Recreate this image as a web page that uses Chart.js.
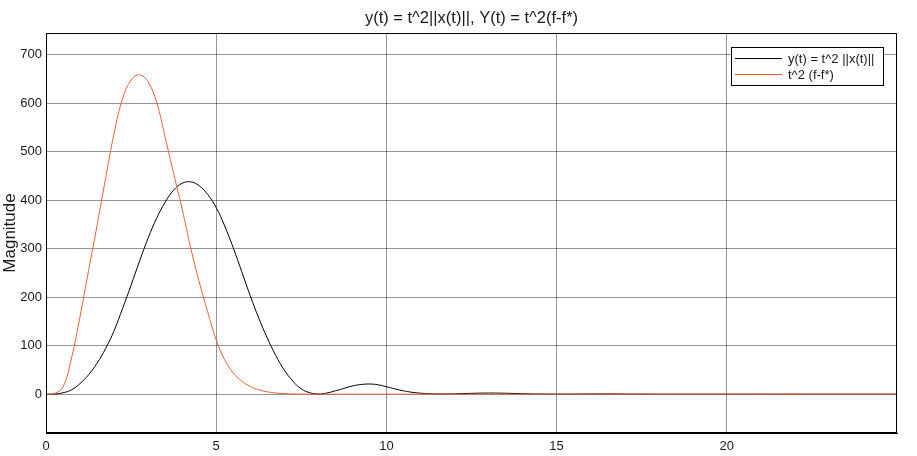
<!DOCTYPE html>
<html>
<head>
<meta charset="utf-8">
<script src="https://cdn.jsdelivr.net/npm/chart.js@4.4.1/dist/chart.umd.min.js"></script>
<style>
  html, body { margin: 0; padding: 0; background: #fff; }
  #wrap { width: 917px; height: 456px; }
</style>
</head>
<body>
<div id="wrap"><canvas id="grafico" width="917" height="456"></canvas></div>
<script>
// data
const tempo = [0, 0.25, 0.5, 0.75, 1, 1.25, 1.5, 1.75, 2, 2.25, 2.5, 2.75, 3, 3.25, 3.5, 3.75,
  4, 4.25, 4.5, 4.75, 5, 5.25, 5.5, 5.75, 6, 6.25, 6.5, 6.75, 7, 7.25, 7.5, 7.75,
  8, 8.25, 8.5, 8.75, 9, 9.25, 9.5, 9.75, 10, 10.25, 10.5, 10.75, 11, 11.25, 11.5,
  12, 12.5, 13, 13.5, 14, 14.5, 15, 16, 16.5, 17, 18, 20, 22, 25];

const serieY = [0, 0.4, 3, 9, 22, 40, 64, 94, 131, 177, 225, 275, 322, 363, 396, 421,
  435, 438, 430, 412, 385, 347, 302, 253, 203, 157, 116, 80, 50, 27, 11, 3,
  0.5, 2.5, 7, 12, 17, 20, 21, 19.5, 15.5, 11, 7, 4, 2.2, 1, 0.5,
  0.8, 1.8, 2.4, 2, 1, 0.4, 0.2, 0.5, 0.6, 0.4, 0.1, 0.1, 0, 0];

const serieF = [0, 1.5, 15, 75, 160, 255, 348, 445, 538, 610, 648, 659, 644, 602, 530, 455,
  382, 302, 232, 170, 112, 71, 44, 27, 16, 9, 5, 2.5, 1.2, 0.6, 0.3, 0.1,
  0, 0, 0, 0, 0, 0, 0, 0, 0, 0, 0, 0, 0, 0, 0,
  0, 0, 0, 0, 0, 0, 0, 0, 0, 0, 0, 0, 0, 0];

const ticksX = [0, 5, 10, 15, 20];
const ticksY = [0, 100, 200, 300, 400, 500, 600, 700];

const rotulos = ['y(t) = t^2 ||x(t)||', 't^2 (f-f*)'];
const titulo = 'y(t) = t^2||x(t)||, Y(t) = t^2(f-f*)';

const pontos = (ys) => tempo.map((t, i) => ({ x: t, y: ys[i] }));

const fonte = '"Liberation Sans", Arial, sans-serif';
const corTexto = '#1a1a1a';
const corGrade = 'rgba(0,0,0,0.42)';

// title, box and legend drawn on top of the plot
const extras = {
  id: 'extras',
  afterDraw(chart) {
    const { ctx, chartArea: a } = chart;
    ctx.save();
    // box around plot
    ctx.strokeStyle = '#000';
    ctx.lineWidth = 1;
    ctx.strokeRect(Math.round(a.left) + 0.5, Math.round(a.top) + 0.5,
      Math.round(a.right - a.left) - 1, Math.round(a.bottom - a.top) - 1);

    // title
    ctx.fillStyle = corTexto;
    ctx.font = '16.5px ' + fonte;
    ctx.textAlign = 'center';
    ctx.textBaseline = 'middle';
    ctx.fillText(titulo, (a.left + a.right) / 2, 18);

    // legend
    const lx = 731, ly = 47, lw = 153, lh = 39;
    ctx.fillStyle = '#fff';
    ctx.fillRect(lx, ly, lw, lh);
    ctx.strokeStyle = '#000';
    ctx.strokeRect(lx + 0.5, ly + 0.5, lw - 1, lh - 1);
    ctx.font = '13px ' + fonte;
    ctx.textAlign = 'left';
    chart.data.datasets.forEach((ds, i) => {
      const y = ly + 11.5 + i * 16;
      ctx.strokeStyle = ds.borderColor;
      ctx.beginPath();
      ctx.moveTo(lx + 4, y);
      ctx.lineTo(lx + 51, y);
      ctx.stroke();
      ctx.fillStyle = corTexto;
      ctx.fillText(ds.label, lx + 57, y + 0.5);
    });
    ctx.restore();
  }
};

const ctx = document.getElementById('grafico').getContext('2d');
window.grafico = new Chart(ctx, {
  type: 'line',
  data: {
    datasets: [{
      label: rotulos[0],
      data: pontos(serieY),
      borderColor: '#000000',
      borderWidth: 1,
      pointRadius: 0,
      tension: 0.4,
      order: 2
    }, {
      label: rotulos[1],
      data: pontos(serieF),
      borderColor: '#e8602c',
      borderWidth: 1,
      pointRadius: 0,
      tension: 0.4,
      order: 1
    }]
  },
  options: {
    responsive: false,
    animation: false,
    events: [],
    layout: { padding: { left: 0, right: 20, top: 33, bottom: 0 } },
    plugins: {
      legend: { display: false },
      title: { display: false },
      tooltip: { enabled: false }
    },
    scales: {
      x: {
        type: 'linear',
        min: 0,
        max: 25,
        afterBuildTicks: (s) => { s.ticks = ticksX.map(v => ({ value: v })); },
        afterFit: (s) => { s.height = 23; },
        grid: { color: corGrade, tickLength: 0, lineWidth: 1 },
        border: { display: true, color: '#000' },
        ticks: { color: corTexto, font: { family: fonte, size: 13 }, padding: 6, maxRotation: 0 }
      },
      y: {
        type: 'linear',
        min: -80,
        max: 745,
        afterBuildTicks: (s) => { s.ticks = ticksY.map(v => ({ value: v })); },
        afterFit: (s) => { s.width = 46; },
        grid: { color: corGrade, tickLength: 0, lineWidth: 1 },
        border: { display: true, color: '#000' },
        ticks: { color: corTexto, font: { family: fonte, size: 13 }, padding: 4 },
        title: {
          display: true,
          text: 'Magnitude',
          color: corTexto,
          font: { family: fonte, size: 17 },
          padding: { top: 0, bottom: 0 }
        }
      }
    }
  },
  plugins: [extras]
});
</script>
</body>
</html>
